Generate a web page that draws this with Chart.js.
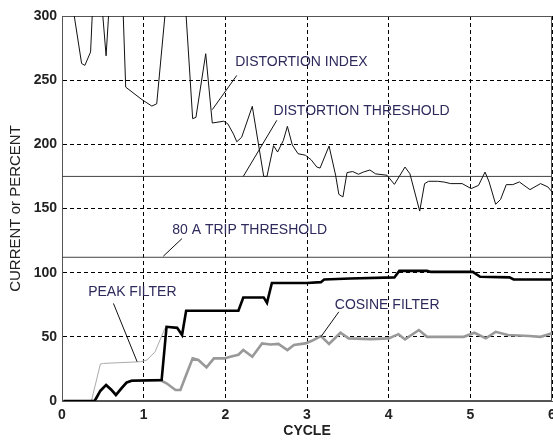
<!DOCTYPE html>
<html>
<head>
<meta charset="utf-8">
<script src="https://cdn.jsdelivr.net/npm/chart.js@4"></script>
<style>
    html, body { margin: 0; padding: 0; background: #fff; }
    #wrap { width: 553px; height: 440px; }
</style>
</head>
<body>
<div id="wrap"><canvas id="chart" width="553" height="440"></canvas></div>
<script>
// Distortion index (goes off the top of the plot where it exceeds 300)
const distortionCycle = [0.13, 0.15, 0.24, 0.28, 0.35, 0.37, 0.44, 0.50, 0.54, 0.57, 0.66, 0.75, 0.78, 0.98, 1.10, 1.16, 1.26, 1.40,
    1.52, 1.60, 1.64, 1.76, 1.84, 1.98, 2.03, 2.10, 2.14, 2.20, 2.33, 2.47, 2.51, 2.59, 2.64, 2.71, 2.76, 2.82, 2.89, 2.98,
    3.05, 3.12, 3.16, 3.27, 3.35, 3.39, 3.44, 3.49, 3.56, 3.63, 3.69, 3.77, 3.84, 3.98, 4.07, 4.20, 4.26, 4.38, 4.44, 4.49,
    4.60, 4.68, 4.76, 4.90, 5.01, 5.10, 5.18, 5.23, 5.31, 5.37, 5.44, 5.52, 5.60, 5.73, 5.86, 5.95, 6.00];
const distortionValue = [330, 300, 263, 261.5, 272, 300, 330, 300, 269, 300, 330, 300, 244.6, 234.8, 229.8, 231.6, 300, 330,
    300, 220, 221, 270.6, 216.6, 218, 216, 208, 202, 205.5, 229.6, 175, 175, 199, 194, 203, 214, 199.5, 192.7, 191.5,
    188, 182.3, 181.5, 198.7, 176, 161, 159, 178, 178.8, 176.7, 178.4, 180, 177, 175.9, 168.8, 182.3, 177.1, 148, 169.4, 171.2,
    171.2, 170.6, 169.4, 169.4, 165.5, 168, 178.4, 170.7, 153.3, 157, 168.6, 168.6, 170.7, 164.7, 169.4, 166.8, 162.9];

// Peak filter (thick black)
const peakCycle = [0.02, 0.40, 0.47, 0.54, 0.60, 0.66, 0.73, 0.79, 0.85, 1.22, 1.28, 1.41, 1.47, 1.52, 2.16, 2.22, 2.47, 2.51,
    2.57, 3.00, 3.17, 3.21, 3.53, 4.07, 4.13, 4.47, 4.52, 5.03, 5.12, 5.48, 5.53, 6.00];
const peakValue = [0, 0, 8, 12.5, 9, 4.7, 10, 14.3, 15.8, 16.3, 57.8, 57, 51.4, 70.3, 70.3, 80.7, 80.7, 76.5,
    92, 92, 92.6, 94.7, 95.5, 96.3, 101.4, 101.4, 100.6, 100.6, 96.8, 96.3, 94.7, 94.7];

// Cosine filter (thick grey)
const cosineCycle = [0.36, 0.40, 0.47, 0.54, 0.60, 0.66, 0.73, 0.79, 0.85, 1.20, 1.28, 1.39, 1.45, 1.52, 1.60, 1.67, 1.77, 1.86,
    1.99, 2.06, 2.16, 2.22, 2.33, 2.45, 2.55, 2.65, 2.76, 2.84, 2.98, 3.06, 3.17, 3.27, 3.41, 3.51, 3.78, 4.00, 4.12, 4.20,
    4.37, 4.47, 4.92, 5.05, 5.19, 5.31, 5.46, 5.72, 5.86, 6.00];
const cosineValue = [0, 0, 8, 12.5, 9, 4.7, 10, 14.3, 15.8, 16.3, 13.8, 8.6, 8.6, 20.2, 33.2, 32, 26.2, 33.2,
    33.2, 34.5, 36, 39.7, 34.5, 44.9, 44, 44.5, 39.7, 43.6, 44.9, 46.9, 50.6, 44.4, 53.2, 48.8, 48.2, 48.8, 52.1, 48,
    55.3, 50, 50, 53.2, 48.8, 53.9, 51.4, 50.6, 50, 52.7];

// Thin light grey trace during the first cycle
const rawCycle = [0.36, 0.47, 0.51, 0.96, 1.04, 1.14, 1.20, 1.26, 1.28];
const rawValue = [0, 28.8, 29.3, 30.6, 31.9, 38.4, 47.5, 56.6, 57.8];

// Thresholds
const distortionThreshold = 175;
const tripThreshold = 112;

const yTicks = [0, 50, 100, 150, 200, 250, 300];
const xTicks = [0, 1, 2, 3, 4, 5, 6];

// label text, label anchor (cycle, value), leader start and end (cycle, value)
const labels = [
    { text: 'DISTORTION INDEX', at: [2.12, 264], from: [2.14, 253.7], to: [1.84, 227] },
    { text: 'DISTORTION THRESHOLD', at: [2.59, 226], from: [2.63, 218.7], to: [2.22, 175] },
    { text: '80 A TRIP THRESHOLD', at: [1.35, 133], from: [1.47, 126.6], to: [1.24, 112.8] },
    { text: 'PEAK FILTER', at: [0.32, 84.6], from: [0.63, 76], to: [0.92, 30.6] },
    { text: 'COSINE FILTER', at: [3.34, 74.7], from: [3.39, 69.5], to: [3.17, 50] }
];

function pairs(xs, ys) {
    return xs.map((x, i) => ({ x: x, y: ys[i] }));
}

const FONT = "'Liberation Sans', Arial, sans-serif";

const frameAndLabels = {
    id: 'frameAndLabels',
    beforeDatasetsDraw(chart) {
        const { ctx, chartArea: a } = chart;
        ctx.save();
        ctx.strokeStyle = '#555';
        ctx.lineWidth = 1;
        ctx.strokeRect(a.left + 0.5, a.top + 0.5, a.right - a.left - 1, a.bottom - a.top - 1);
        ctx.restore();
    },
    afterDatasetsDraw(chart) {
        const { ctx } = chart;
        const xs = chart.scales.x, ys = chart.scales.y;
        ctx.save();
        ctx.strokeStyle = '#111';
        ctx.lineWidth = 1;
        labels.forEach(l => {
            ctx.beginPath();
            ctx.moveTo(xs.getPixelForValue(l.from[0]), ys.getPixelForValue(l.from[1]));
            ctx.lineTo(xs.getPixelForValue(l.to[0]), ys.getPixelForValue(l.to[1]));
            ctx.stroke();
        });
        ctx.fillStyle = '#2e2a5c';
        ctx.font = '14px ' + FONT;
        ctx.textBaseline = 'middle';
        ctx.textAlign = 'left';
        labels.forEach(l => {
            ctx.fillText(l.text, xs.getPixelForValue(l.at[0]), ys.getPixelForValue(l.at[1]));
        });
        ctx.restore();
    }
};

const ctx = document.getElementById('chart').getContext('2d');
new Chart(ctx, {
    type: 'line',
    data: {
        datasets: [
            {
                label: 'Peak filter',
                data: pairs(peakCycle, peakValue),
                borderColor: '#000',
                borderWidth: 2.6,
                order: 1
            },
            {
                label: 'Cosine filter',
                data: pairs(cosineCycle, cosineValue),
                borderColor: '#999',
                borderWidth: 2.6,
                order: 2
            },
            {
                label: 'Raw',
                data: pairs(rawCycle, rawValue),
                borderColor: '#aaa',
                borderWidth: 1,
                order: 3
            },
            {
                label: 'Distortion index',
                data: pairs(distortionCycle, distortionValue),
                borderColor: '#111',
                borderWidth: 1,
                order: 4
            },
            {
                label: 'Distortion threshold',
                data: pairs([0, 6], [distortionThreshold, distortionThreshold]),
                borderColor: '#444',
                borderWidth: 1,
                order: 5
            },
            {
                label: '80 A trip threshold',
                data: pairs([0, 6], [tripThreshold, tripThreshold]),
                borderColor: '#444',
                borderWidth: 1,
                order: 5
            }
        ]
    },
    options: {
        responsive: false,
        animation: false,
        events: [],
        layout: { padding: { top: 16, right: 1, left: 0, bottom: 0 } },
        elements: {
            point: { radius: 0 },
            line: { tension: 0, fill: false }
        },
        datasets: { line: { clip: 0 } },
        plugins: {
            legend: { display: false },
            tooltip: { enabled: false }
        },
        scales: {
            x: {
                type: 'linear',
                min: 0,
                max: 6,
                afterBuildTicks: s => { s.ticks = xTicks.map(v => ({ value: v })); },
                afterFit: s => { s.height = 39; s.paddingLeft = 0; s.paddingRight = 0; },
                ticks: {
                    color: '#222',
                    padding: 6,
                    font: { family: FONT, size: 14, weight: 'bold' }
                },
                grid: {
                    color: '#000',
                    lineWidth: 1,
                    drawTicks: false
                },
                border: { display: true, color: '#555', width: 1, dash: [4, 3] },
                title: {
                    display: true,
                    text: 'CYCLE',
                    color: '#222',
                    padding: { top: 0, bottom: 0 },
                    font: { family: FONT, size: 14, weight: 'bold' }
                }
            },
            y: {
                min: 0,
                max: 300,
                afterBuildTicks: s => { s.ticks = yTicks.map(v => ({ value: v })); },
                afterFit: s => { s.width = 62; s.paddingTop = 0; s.paddingBottom = 0; },
                ticks: {
                    color: '#222',
                    padding: 5,
                    font: { family: FONT, size: 14, weight: 'bold' }
                },
                grid: {
                    color: '#000',
                    lineWidth: 1,
                    drawTicks: false
                },
                border: { display: true, color: '#555', width: 1, dash: [4, 3] },
                title: {
                    display: true,
                    text: 'CURRENT or PERCENT',
                    color: '#222',
                    padding: { top: 7, bottom: 0 },
                    font: { family: FONT, size: 15 }
                }
            }
        }
    },
    plugins: [frameAndLabels]
});
</script>
</body>
</html>
